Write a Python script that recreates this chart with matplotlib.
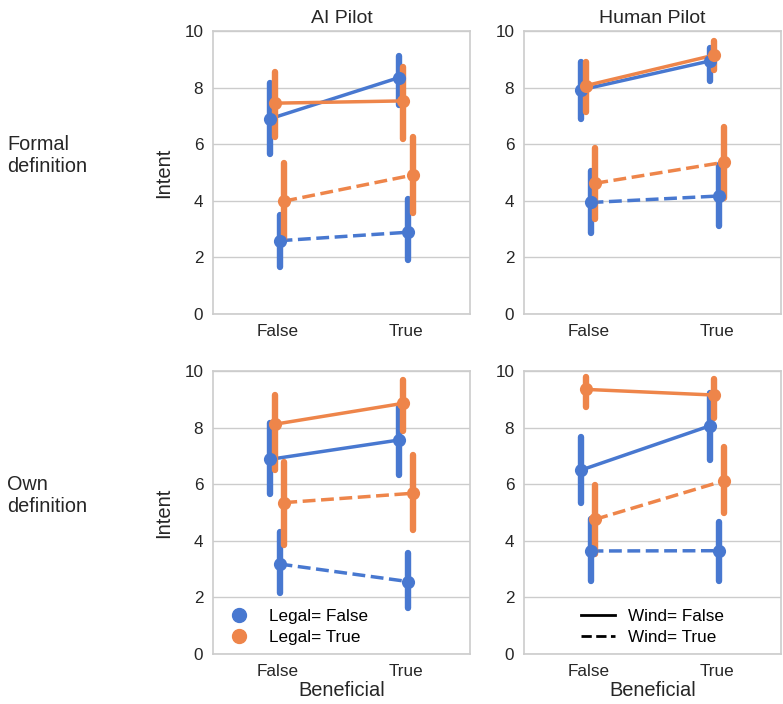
import matplotlib
matplotlib.use("Agg")
import matplotlib.pyplot as plt
from matplotlib.lines import Line2D

# ---- data ----
categories = ["False", "True"]
pilots = ["AI Pilot", "Human Pilot"]
definitions = ["Formal\ndefinition", "Own\ndefinition"]
# series order: (Legal=False, Wind=False), (Legal=True, Wind=False),
#               (Legal=False, Wind=True),  (Legal=True, Wind=True)
series_legal = [False, True, False, True]
series_wind = [False, False, True, True]

ai_formal_mean = [[6.90, 8.35], [7.45, 7.53], [2.59, 2.89], [3.99, 4.91]]
ai_formal_lo = [[5.65, 7.40], [6.27, 6.17], [1.65, 1.91], [2.61, 3.58]]
ai_formal_hi = [[8.15, 9.12], [8.56, 8.74], [3.50, 4.05], [5.32, 6.27]]

human_formal_mean = [[7.92, 8.94], [8.07, 9.15], [3.94, 4.17], [4.62, 5.36]]
human_formal_lo = [[6.88, 8.25], [7.13, 8.62], [2.85, 3.11], [3.35, 4.09]]
human_formal_hi = [[8.92, 9.39], [8.92, 9.65], [5.07, 5.27], [5.85, 6.62]]

ai_own_mean = [[6.88, 7.56], [8.12, 8.86], [3.18, 2.56], [5.35, 5.68]]
ai_own_lo = [[5.65, 6.33], [6.50, 7.88], [2.17, 1.61], [3.85, 4.38]]
ai_own_hi = [[8.15, 8.74], [9.15, 9.68], [4.32, 3.58], [6.80, 7.03]]

human_own_mean = [[6.50, 8.06], [9.35, 9.15], [3.64, 3.65], [4.76, 6.12]]
human_own_lo = [[5.35, 6.86], [8.72, 8.33], [2.59, 2.59], [3.53, 4.97]]
human_own_hi = [[7.68, 9.21], [9.80, 9.72], [4.76, 4.67], [5.97, 7.33]]

panels = [
    [(ai_formal_mean, ai_formal_lo, ai_formal_hi),
     (human_formal_mean, human_formal_lo, human_formal_hi)],
    [(ai_own_mean, ai_own_lo, ai_own_hi),
     (human_own_mean, human_own_lo, human_own_hi)],
]

# ---- style ----
plt.rcParams["font.family"] = ["Liberation Sans", "DejaVu Sans"]
blue = "#4878D0"
orange = "#EE854A"
text_color = "#262626"
colors = {False: blue, True: orange}
offsets = [-0.055, -0.018, 0.018, 0.055]

fig = plt.figure(figsize=(7.83, 7.04), dpi=100)
W, H = 783, 704
ax_left = [213, 524]
ax_w = 257
ax_top = [31, 371]
ax_h = 283

for r in range(2):
    for c in range(2):
        ax = fig.add_axes([ax_left[c] / W, 1 - (ax_top[r] + ax_h) / H, ax_w / W, ax_h / H])
        means, los, his = panels[r][c]
        for s in range(4):
            col = colors[series_legal[s]]
            ls = "--" if series_wind[s] else "-"
            xs = [i + offsets[s] for i in range(len(categories))]
            ax.plot(xs, means[s], color=col, lw=2.5, ls=ls, zorder=3)
            for i in range(len(categories)):
                ax.plot([xs[i], xs[i]], [los[s][i], his[s][i]], color=col,
                        lw=4.6, solid_capstyle="round", zorder=3)
            ax.scatter(xs, means[s], s=90, color=col, zorder=4, linewidths=0)
        ax.set_xlim(-0.5, 1.5)
        ax.set_ylim(0, 10)
        ax.set_xticks(range(len(categories)))
        ax.set_xticklabels(categories)
        ax.set_yticks([0, 2, 4, 6, 8, 10])
        ax.tick_params(length=0, labelsize=12.3, colors=text_color, pad=7)
        ax.grid(axis="y", color="#cccccc", lw=1)
        ax.set_axisbelow(True)
        for sp in ax.spines.values():
            sp.set_color("#cccccc")
            sp.set_linewidth(1.2)
        if r == 0:
            ax.set_title(pilots[c], fontsize=14, color=text_color, pad=6)
        if c == 0:
            ax.set_ylabel("Intent", fontsize=14.5, color=text_color, labelpad=8)
        if r == 1:
            ax.set_xlabel("Beneficial", fontsize=14.4, color=text_color, labelpad=2)
        if r == 1 and c == 0:
            handles = [Line2D([], [], marker="o", ls="none", color=colors[v], markersize=10)
                       for v in [False, True]]
            ax.legend(handles, ["Legal= False", "Legal= True"], loc="lower left",
                      frameon=False, fontsize=12.3, handletextpad=0.8,
                      borderaxespad=0.1, labelspacing=0.4)
        if r == 1 and c == 1:
            handles = [Line2D([], [], color="black", lw=2, ls=v)
                       for v in ["-", "--"]]
            ax.legend(handles, ["Wind= False", "Wind= True"], loc="lower center",
                      frameon=False, fontsize=12.3, handletextpad=0.8,
                      borderaxespad=0.1, labelspacing=0.4)

for r in range(2):
    fig.text(7 / W, 1 - [156, 496][r] / H, definitions[r], fontsize=14.3,
             color=text_color, va="center", ha="left")

fig.savefig("out.png", dpi=100)
